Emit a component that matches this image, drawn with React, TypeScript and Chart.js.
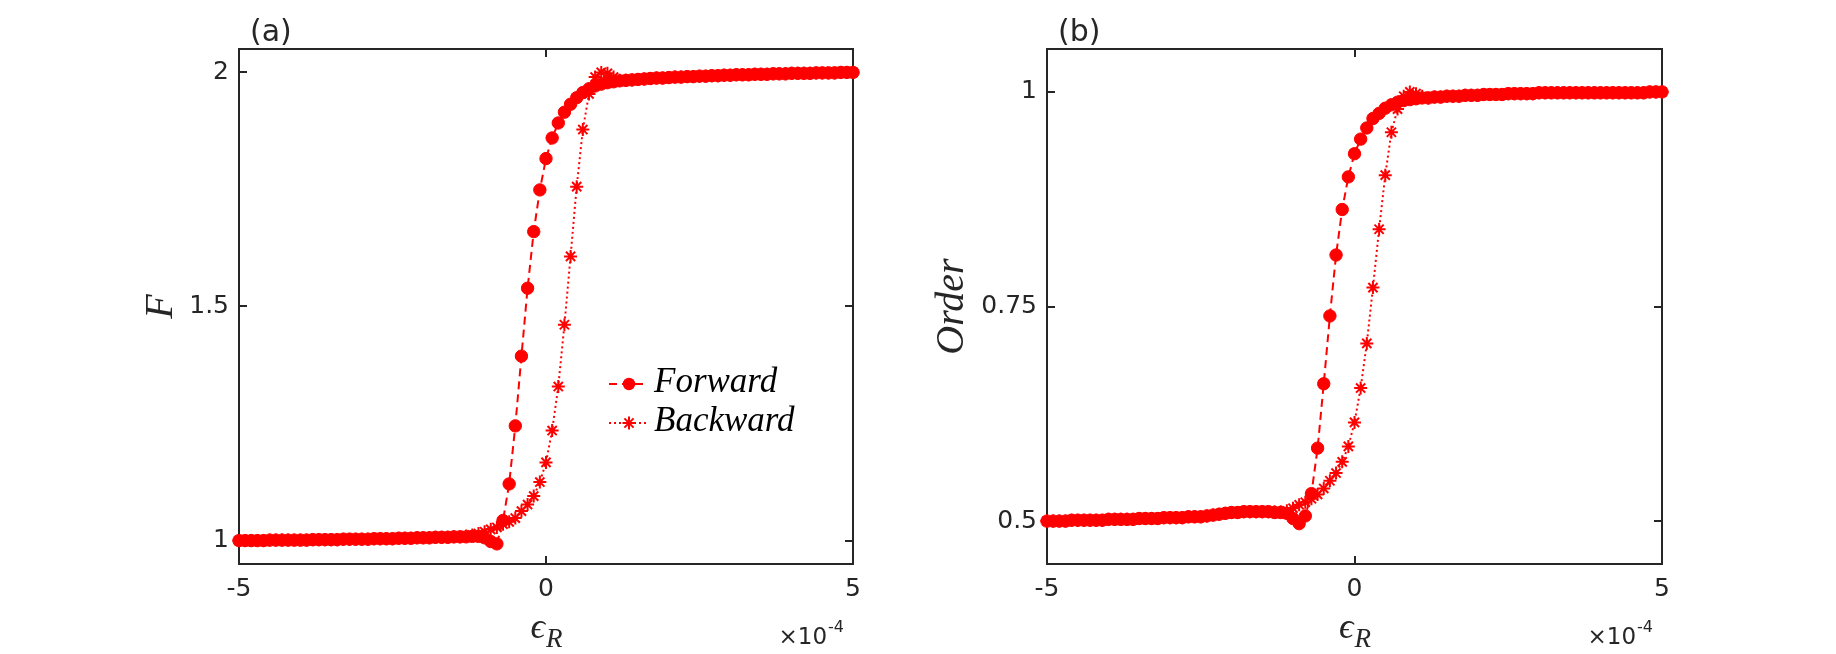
import React, { useEffect, useRef } from 'react';
import { Chart, registerables } from 'chart.js';

Chart.register(...registerables);

// ---------- data ----------
const epsR = [
  -5, -4.9, -4.8, -4.7, -4.6, -4.5, -4.4, -4.3, -4.2, -4.1,
  -4, -3.9, -3.8, -3.7, -3.6, -3.5, -3.4, -3.3, -3.2, -3.1,
  -3, -2.9, -2.8, -2.7, -2.6, -2.5, -2.4, -2.3, -2.2, -2.1,
  -2, -1.9, -1.8, -1.7, -1.6, -1.5, -1.4, -1.3, -1.2, -1.1,
  -1, -0.9, -0.8, -0.7, -0.6, -0.5, -0.4, -0.3, -0.2, -0.1,
  0, 0.1, 0.2, 0.3, 0.4, 0.5, 0.6, 0.7, 0.8, 0.9,
  1, 1.1, 1.2, 1.3, 1.4, 1.5, 1.6, 1.7, 1.8, 1.9,
  2, 2.1, 2.2, 2.3, 2.4, 2.5, 2.6, 2.7, 2.8, 2.9,
  3, 3.1, 3.2, 3.3, 3.4, 3.5, 3.6, 3.7, 3.8, 3.9,
  4, 4.1, 4.2, 4.3, 4.4, 4.5, 4.6, 4.7, 4.8, 4.9,
  5,
];

const fForward = [
  1.000, 1.000, 1.000, 1.000, 1.000, 1.001, 1.001, 1.001, 1.001, 1.001,
  1.001, 1.001, 1.002, 1.002, 1.002, 1.002, 1.002, 1.003, 1.003, 1.003,
  1.003, 1.003, 1.004, 1.004, 1.004, 1.004, 1.005, 1.005, 1.005, 1.006,
  1.006, 1.006, 1.007, 1.007, 1.007, 1.008, 1.008, 1.008, 1.009, 1.009,
  1.006, 0.998, 0.993, 1.043, 1.121, 1.245, 1.394, 1.539, 1.660, 1.749,
  1.816, 1.860, 1.892, 1.915, 1.932, 1.946, 1.957, 1.965, 1.971, 1.975,
  1.978, 1.980, 1.982, 1.983, 1.984, 1.985, 1.986, 1.987, 1.988, 1.988,
  1.989, 1.990, 1.990, 1.991, 1.991, 1.992, 1.992, 1.993, 1.993, 1.994,
  1.994, 1.995, 1.995, 1.995, 1.996, 1.996, 1.996, 1.997, 1.997, 1.997,
  1.998, 1.998, 1.998, 1.998, 1.999, 1.999, 1.999, 1.999, 2.000, 2.000,
  2.000,
];

const fBackward = [
  1.000, 1.000, 1.000, 1.000, 1.000, 1.001, 1.001, 1.001, 1.001, 1.001,
  1.001, 1.001, 1.002, 1.002, 1.002, 1.002, 1.002, 1.003, 1.003, 1.003,
  1.003, 1.003, 1.004, 1.004, 1.004, 1.004, 1.005, 1.005, 1.005, 1.006,
  1.006, 1.006, 1.007, 1.007, 1.007, 1.008, 1.008, 1.010, 1.012, 1.015,
  1.019, 1.024, 1.028, 1.035, 1.040, 1.048, 1.063, 1.077, 1.095, 1.125,
  1.167, 1.235, 1.329, 1.461, 1.607, 1.756, 1.878, 1.954, 1.990, 2.000,
  1.998, 1.990, 1.983, 1.983, 1.984, 1.985, 1.986, 1.987, 1.988, 1.988,
  1.989, 1.990, 1.990, 1.991, 1.991, 1.992, 1.992, 1.993, 1.993, 1.994,
  1.994, 1.995, 1.995, 1.995, 1.996, 1.996, 1.996, 1.997, 1.997, 1.997,
  1.998, 1.998, 1.998, 1.998, 1.999, 1.999, 1.999, 1.999, 2.000, 2.000,
  2.000,
];

const orderForward = [
  0.500, 0.500, 0.500, 0.500, 0.501, 0.501, 0.501, 0.501, 0.501, 0.501,
  0.502, 0.502, 0.502, 0.502, 0.502, 0.503, 0.503, 0.503, 0.503, 0.504,
  0.504, 0.504, 0.504, 0.505, 0.505, 0.505, 0.506, 0.507, 0.508, 0.509,
  0.510, 0.510, 0.511, 0.511, 0.511, 0.511, 0.511, 0.510, 0.510, 0.509,
  0.503, 0.497, 0.506, 0.532, 0.585, 0.660, 0.739, 0.810, 0.863, 0.901,
  0.928, 0.945, 0.958, 0.969, 0.975, 0.981, 0.985, 0.988, 0.990, 0.991,
  0.992, 0.993, 0.993, 0.994, 0.994, 0.995, 0.995, 0.995, 0.996, 0.996,
  0.996, 0.997, 0.997, 0.997, 0.997, 0.998, 0.998, 0.998, 0.998, 0.998,
  0.999, 0.999, 0.999, 0.999, 0.999, 0.999, 0.999, 0.999, 0.999, 0.999,
  0.999, 0.999, 0.999, 0.999, 0.999, 0.999, 0.999, 0.999, 1.000, 1.000,
  1.000,
];

const orderBackward = [
  0.500, 0.500, 0.500, 0.500, 0.501, 0.501, 0.501, 0.501, 0.501, 0.501,
  0.502, 0.502, 0.502, 0.502, 0.502, 0.503, 0.503, 0.503, 0.503, 0.504,
  0.504, 0.504, 0.504, 0.505, 0.505, 0.505, 0.506, 0.507, 0.508, 0.509,
  0.510, 0.510, 0.511, 0.511, 0.511, 0.511, 0.511, 0.511, 0.511, 0.512,
  0.515, 0.519, 0.522, 0.526, 0.531, 0.538, 0.547, 0.556, 0.569, 0.587,
  0.615, 0.655, 0.707, 0.772, 0.840, 0.903, 0.953, 0.980, 0.995, 1.000,
  0.998, 0.995, 0.993, 0.994, 0.994, 0.995, 0.995, 0.995, 0.996, 0.996,
  0.996, 0.997, 0.997, 0.997, 0.997, 0.998, 0.998, 0.998, 0.998, 0.998,
  0.999, 0.999, 0.999, 0.999, 0.999, 0.999, 0.999, 0.999, 0.999, 0.999,
  0.999, 0.999, 0.999, 0.999, 0.999, 0.999, 0.999, 0.999, 1.000, 1.000,
  1.000,
];

const xTicks = [-5, 0, 5];
const xRange = [-5, 5];
const fTicks = [1, 1.5, 2];
const fRange = [0.95, 2.05];
const orderTicks = [0.5, 0.75, 1];
const orderRange = [0.45, 1.05];
const seriesNames = ['Forward', 'Backward'];

// ---------- style ----------
const RED = '#ff0000';
const AXIS = '#262626';
const CANVAS_W = 918;
const CANVAS_H = 654;
const TICK_FONT = { family: '"DejaVu Sans"', size: 25 };
const CIRCLE_R = 6.2;
const STAR_R = 6.5;
const SERIF = '"Liberation Serif", "DejaVu Serif", serif';

type Panel = {
  forward: number[];
  backward: number[];
  yTicks: number[];
  yRange: number[];
  left: number;
  right: number;
  tag: string;
  yTitle: string;
  yTitleX: number;
  legend: boolean;
};

function drawStar(ctx: CanvasRenderingContext2D, x: number, y: number, r: number) {
  ctx.beginPath();
  ctx.moveTo(x - r, y); ctx.lineTo(x + r, y);
  ctx.moveTo(x, y - r); ctx.lineTo(x, y + r);
  const d = r * Math.SQRT1_2;
  ctx.moveTo(x - d, y - d); ctx.lineTo(x + d, y + d);
  ctx.moveTo(x - d, y + d); ctx.lineTo(x + d, y - d);
  ctx.stroke();
}

function makeDecor(p: Panel) {
  return {
    id: 'decor' + p.tag,
    beforeDatasetsDraw(chart: any) {
      const { ctx, chartArea: a, scales } = chart;
      ctx.save();
      ctx.strokeStyle = AXIS;
      ctx.lineWidth = 2;
      ctx.strokeRect(a.left, a.top, a.right - a.left, a.bottom - a.top);
      const TL = 8;
      ctx.beginPath();
      for (const v of xTicks) {
        const px = Math.round(scales.x.getPixelForValue(v));
        ctx.moveTo(px, a.bottom); ctx.lineTo(px, a.bottom - TL);
        ctx.moveTo(px, a.top); ctx.lineTo(px, a.top + TL);
      }
      for (const v of p.yTicks) {
        const py = Math.round(scales.y.getPixelForValue(v));
        ctx.moveTo(a.left, py); ctx.lineTo(a.left + TL, py);
        ctx.moveTo(a.right, py); ctx.lineTo(a.right - TL, py);
      }
      ctx.stroke();
      ctx.restore();
    },
    afterDraw(chart: any) {
      const { ctx, chartArea: a } = chart;
      ctx.save();
      ctx.fillStyle = AXIS;
      // panel tag
      ctx.font = '30px "DejaVu Sans"';
      ctx.textAlign = 'left';
      ctx.textBaseline = 'alphabetic';
      ctx.fillText(p.tag, a.left + 11, 41);

      // y title
      ctx.save();
      ctx.translate(p.yTitleX, (a.top + a.bottom) / 2);
      ctx.rotate(-Math.PI / 2);
      ctx.font = `italic 40px ${SERIF}`;
      ctx.textAlign = 'center';
      ctx.fillText(p.yTitle, 0, 0);
      ctx.restore();

      // x title: epsilon_R
      const cx = chart.scales.x.getPixelForValue(0);
      const eps = '\u03f5';
      ctx.font = `italic 36px ${SERIF}`;
      const wE = ctx.measureText(eps).width;
      ctx.font = `italic 27px ${SERIF}`;
      const wR = ctx.measureText('R').width;
      const x0 = cx - (wE + wR) / 2;
      ctx.font = `italic 36px ${SERIF}`;
      ctx.fillText(eps, x0, 638);
      ctx.font = `italic 27px ${SERIF}`;
      ctx.fillText('R', x0 + wE + 1, 647);

      // exponent x10^-4
      ctx.font = '23px "DejaVu Sans"';
      const w10 = ctx.measureText('\u00d710').width;
      ctx.font = '16px "DejaVu Sans"';
      const w4 = ctx.measureText('-4').width;
      const ex = a.right - 10 - w10 - w4;
      ctx.font = '23px "DejaVu Sans"';
      ctx.fillText('\u00d710', ex, 644);
      ctx.font = '16px "DejaVu Sans"';
      ctx.fillText('-4', ex + w10 + 1, 632);

      // legend
      if (p.legend) {
        const lx0 = 609, lx1 = 648, mx = 629;
        const rows = [384, 423];
        ctx.strokeStyle = RED;
        ctx.fillStyle = RED;
        ctx.lineWidth = 2;
        // forward
        ctx.setLineDash([8, 5]);
        ctx.beginPath(); ctx.moveTo(lx0, rows[0]); ctx.lineTo(lx1, rows[0]); ctx.stroke();
        ctx.setLineDash([]);
        ctx.beginPath(); ctx.arc(mx, rows[0], CIRCLE_R, 0, Math.PI * 2); ctx.fill();
        // backward
        ctx.setLineDash([2, 3]);
        ctx.beginPath(); ctx.moveTo(lx0, rows[1]); ctx.lineTo(lx1, rows[1]); ctx.stroke();
        ctx.setLineDash([]);
        ctx.lineWidth = 2;
        drawStar(ctx, mx, rows[1], STAR_R);
        ctx.fillStyle = '#000000';
        ctx.font = `italic 35px ${SERIF}`;
        ctx.textAlign = 'left';
        ctx.fillText(seriesNames[0], 654, 392);
        ctx.fillText(seriesNames[1], 654, 431);
      }
      ctx.restore();
    },
  };
}

function makeConfig(p: Panel): any {
  const pts = (ys: number[]) => epsR.map((x, i) => ({ x, y: ys[i] }));
  return {
    type: 'line',
    data: {
      datasets: [
        {
          label: seriesNames[0],
          data: pts(p.forward),
          borderColor: RED,
          backgroundColor: RED,
          borderWidth: 2,
          borderDash: [8, 5],
          pointStyle: 'circle',
          pointRadius: CIRCLE_R,
          pointBorderWidth: 1,
          pointBackgroundColor: RED,
          pointBorderColor: RED,
          tension: 0,
          clip: false,
          order: 2,
        },
        {
          label: seriesNames[1],
          data: pts(p.backward),
          borderColor: RED,
          backgroundColor: RED,
          borderWidth: 2,
          borderDash: [2, 3],
          pointStyle: 'star',
          pointRadius: STAR_R,
          pointBorderWidth: 2,
          pointBackgroundColor: RED,
          pointBorderColor: RED,
          tension: 0,
          clip: false,
          order: 1,
        },
      ],
    },
    options: {
      animation: false,
      responsive: false,
      devicePixelRatio: 1,
      events: [],
      layout: { padding: { left: 0, right: CANVAS_W - p.right, top: 49, bottom: 0 } },
      plugins: { legend: { display: false }, tooltip: { enabled: false }, title: { display: false } },
      scales: {
        x: {
          type: 'linear',
          min: xRange[0],
          max: xRange[1],
          afterBuildTicks: (s: any) => { s.ticks = xTicks.map((v) => ({ value: v })); },
          afterFit: (s: any) => { s.height = CANVAS_H - 564; },
          grid: { display: false, drawTicks: false },
          border: { display: false },
          ticks: { font: TICK_FONT, color: AXIS, padding: 10, maxRotation: 0, autoSkip: false, callback: (v: number) => String(v) },
        },
        y: {
          type: 'linear',
          min: p.yRange[0],
          max: p.yRange[1],
          afterBuildTicks: (s: any) => { s.ticks = p.yTicks.map((v) => ({ value: v })); },
          afterFit: (s: any) => { s.width = p.left; },
          grid: { display: false, drawTicks: false },
          border: { display: false },
          ticks: { font: TICK_FONT, color: AXIS, padding: 10, autoSkip: false, callback: (v: number) => String(v) },
        },
      },
    },
    plugins: [makeDecor(p)],
  };
}

const panelA: Panel = {
  forward: fForward, backward: fBackward, yTicks: fTicks, yRange: fRange,
  left: 239, right: 853, tag: '(a)', yTitle: 'F', yTitleX: 172, legend: true,
};
const panelB: Panel = {
  forward: orderForward, backward: orderBackward, yTicks: orderTicks, yRange: orderRange,
  left: 129, right: 744, tag: '(b)', yTitle: 'Order', yTitleX: 45, legend: false,
};

function PanelChart({ panel, left }: { panel: Panel; left: number }) {
  const ref = useRef<HTMLCanvasElement | null>(null);
  useEffect(() => {
    if (!ref.current) return;
    const chart = new Chart(ref.current, makeConfig(panel));
    return () => chart.destroy();
  }, [panel]);
  return (
    <canvas
      ref={ref}
      width={CANVAS_W}
      height={CANVAS_H}
      style={{ position: 'absolute', left, top: 0, width: CANVAS_W, height: CANVAS_H }}
    />
  );
}

export default function App() {
  return (
    <div style={{ position: 'absolute', left: 0, top: 0, width: 1836, height: 654, background: '#fff', overflow: 'hidden' }}>
      <PanelChart panel={panelA} left={0} />
      <PanelChart panel={panelB} left={CANVAS_W} />
    </div>
  );
}
